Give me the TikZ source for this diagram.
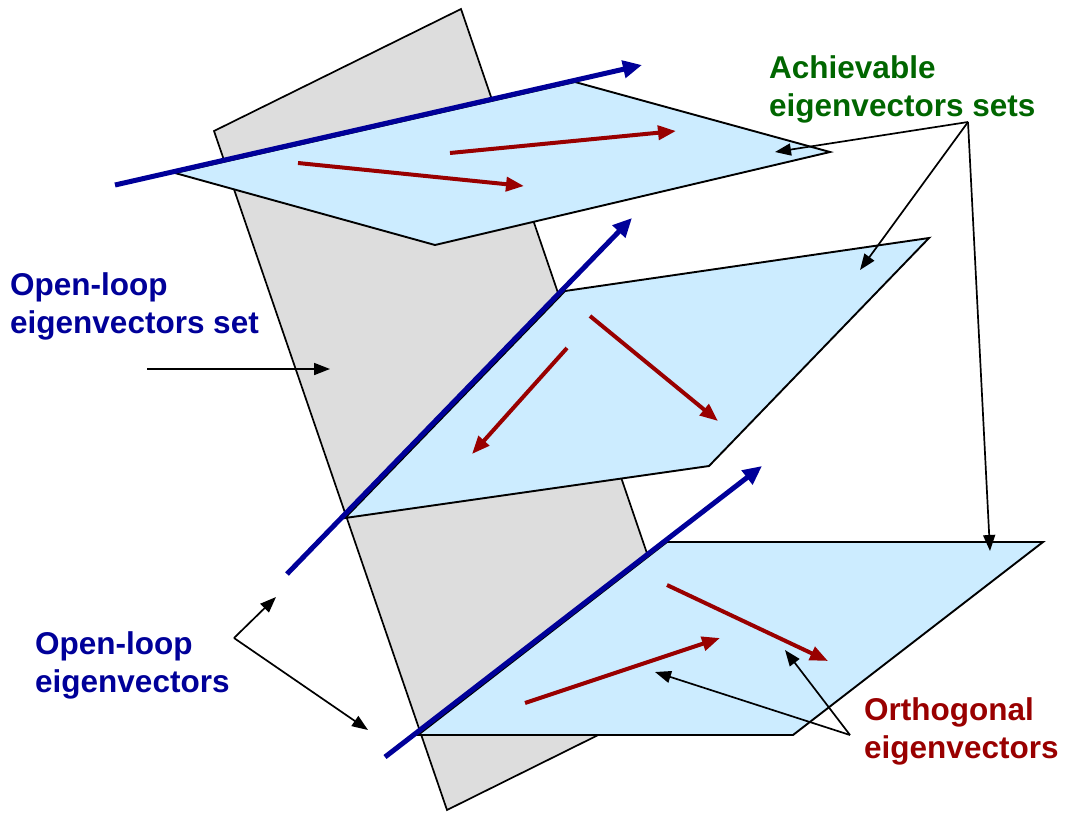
\documentclass[tikz,border=0pt]{standalone}
\usepackage{fontspec}
\setmainfont{Liberation Sans}
\usetikzlibrary{arrows.meta}
\definecolor{olblue}{HTML}{000099}
\definecolor{achgreen}{HTML}{006600}
\definecolor{orthred}{HTML}{990000}
\definecolor{planefill}{HTML}{CCECFF}
\definecolor{setgray}{HTML}{DDDDDD}
\tikzset{
  setplane/.style={draw=black, line width=1.7pt, fill=setgray},
  achplane/.style={draw=black, line width=1.9pt, fill=planefill},
  olvec/.style={draw=olblue, line width=5pt, -{Triangle[length=19pt,width=17pt]}},
  orthvec/.style={draw=orthred, line width=4pt, -{Triangle[length=18pt,width=14pt]}},
  callout/.style={draw=black, line width=1.7pt, -{Triangle[length=16pt,width=12pt]}},
  label/.style={anchor=north west, align=left, inner sep=0pt, font=\bfseries\fontsize{31.5}{38}\selectfont}
}
\begin{document}
\begin{tikzpicture}[x=1pt,y=-1pt]
  \useasboundingbox (0,0) rectangle (1065,812);
  % open-loop set
  \draw[setplane] (214,131) -- (461,9) -- (693,688) -- (447,810) -- cycle;
  % achievable sets
  \draw[achplane] (175,173) -- (575,82) -- (830,152) -- (435,245) -- cycle;
  \draw[achplane] (345,518) -- (565,291) -- (929,238) -- (709,466) -- cycle;
  \draw[achplane] (418,735) -- (667,542) -- (1043,542) -- (793,735) -- cycle;
  % open-loop eigenvectors
  \draw[olvec] (115,185) -- (642,65);
  \draw[olvec] (287,574) -- (632,218);
  \draw[olvec] (385,757) -- (762,466);
  % orthogonal eigenvectors
  \draw[orthvec] (298,163) -- (524,186);
  \draw[orthvec] (450,153) -- (676,131);
  \draw[orthvec] (567,348) -- (472,454);
  \draw[orthvec] (590,316) -- (718,421);
  \draw[orthvec] (525,703) -- (720,638);
  \draw[orthvec] (667,585) -- (828,661);
  % labels
  \node[label, text=achgreen] (ach) at (769,55) {Achievable\\eigenvectors sets};
  \node[label, text=olblue] (olset) at (10,272) {Open-loop\\eigenvectors set};
  \node[label, text=olblue] (olvecs) at (35,631) {Open-loop\\eigenvectors};
  \node[label, text=orthred] (orth) at (864,697) {Orthogonal\\eigenvectors};
  % callouts
  \coordinate (achfork) at (968,122);
  \coordinate (achtop) at (775,152);
  \coordinate (achmid) at (860,270);
  \coordinate (achbot) at (990,551);
  \draw[callout] (achfork) -- (achtop);
  \draw[callout] (achfork) -- (achmid);
  \draw[callout] (achfork) -- (achbot);
  \coordinate (setfrom) at (147,369);
  \coordinate (setto) at (330,369);
  \draw[callout] (setfrom) -- (setto);
  \coordinate (olfork) at (234,638);
  \coordinate (olup) at (276,597);
  \coordinate (oldown) at (368,730);
  \draw[callout] (olfork) -- (olup);
  \draw[callout] (olfork) -- (oldown);
  \coordinate (orthfork) at (850,735);
  \coordinate (orthleft) at (655,672);
  \coordinate (orthright) at (785,650);
  \draw[callout] (orthfork) -- (orthleft);
  \draw[callout] (orthfork) -- (orthright);
\end{tikzpicture}
\end{document}
